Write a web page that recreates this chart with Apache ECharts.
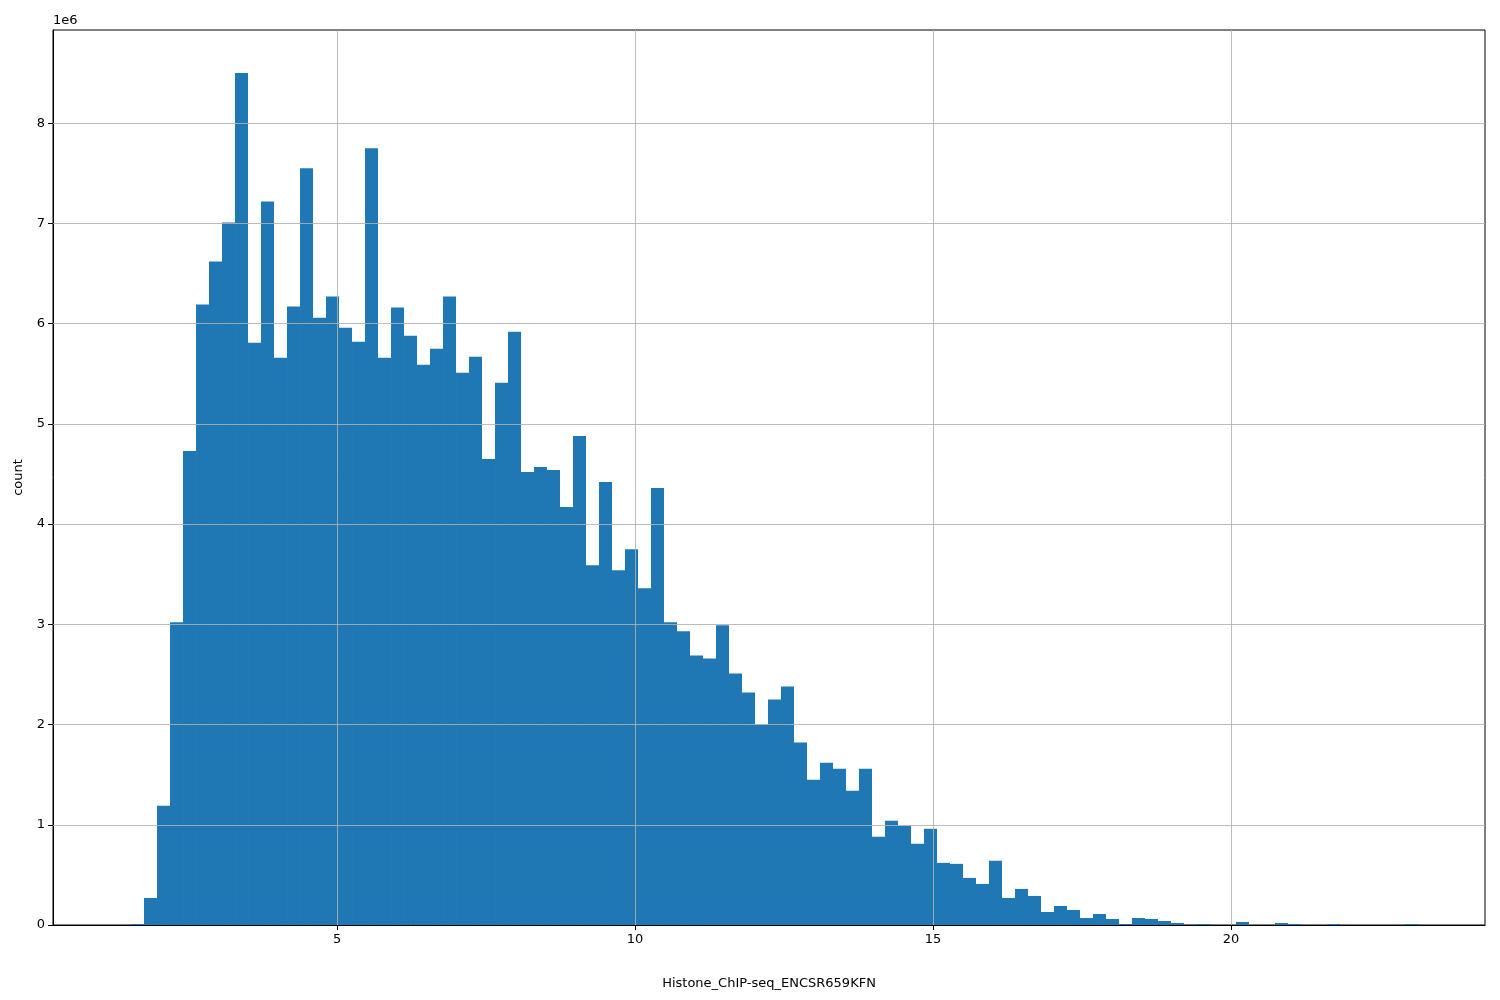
<!DOCTYPE html>
<html>
<head>
<meta charset="utf-8">
<script src="https://cdn.jsdelivr.net/npm/echarts@6/dist/echarts.min.js"></script>
<style>body{margin:0}</style>
</head>
<body>
<div id="chart" style="width:1500px;height:1000px"></div>
<script>
// histogram: 100 bins, first edge and width
const binStart = 1.544;
const binWidth = 0.2181;
const counts = [
  0.01, 0.27, 1.19, 3.02, 4.73, 6.19, 6.62, 7.01, 8.50, 5.81,
  7.22, 5.66, 6.17, 7.55, 6.06, 6.27, 5.96, 5.82, 7.75, 5.66,
  6.16, 5.88, 5.59, 5.75, 6.27, 5.51, 5.67, 4.65, 5.41, 5.92,
  4.52, 4.57, 4.54, 4.17, 4.88, 3.59, 4.42, 3.54, 3.75, 3.36,
  4.36, 3.02, 2.93, 2.69, 2.66, 2.99, 2.51, 2.32, 2.00, 2.25,
  2.38, 1.82, 1.45, 1.62, 1.56, 1.34, 1.56, 0.88, 1.04, 0.99,
  0.81, 0.96, 0.62, 0.61, 0.47, 0.41, 0.64, 0.27, 0.36, 0.29,
  0.13, 0.19, 0.15, 0.07, 0.11, 0.06, 0.01, 0.07, 0.06, 0.04,
  0.02, 0.003, 0.01, 0, 0, 0.03, 0, 0, 0.02, 0.01,
  0, 0, 0.01, 0, 0, 0, 0, 0, 0.01, 0
]; // in millions
const xTicks = [5, 10, 15, 20];
const yTicks = [1, 2, 3, 4, 5, 6, 7, 8];

const data = counts.map((c, i) => [binStart + i * binWidth, binStart + (i + 1) * binWidth, c * 1e6]);

const chart = echarts.init(document.getElementById("chart"));
const font = "DejaVu Sans";
const gridLine = { color: "#b0b0b0", width: 1, type: "solid", opacity: 0.85 };
chart.setOption({
  animation: false,
  textStyle: { fontFamily: font },
  grid: { left: 53, right: 15, top: 30, bottom: 75, show: true, borderColor: "#000", borderWidth: 1, backgroundColor: "transparent" },
  xAxis: {
    type: "value", min: 0.235, max: 24.26,
    name: "Histone_ChIP-seq_ENCSR659KFN", nameLocation: "middle", nameGap: 52,
    nameTextStyle: { color: "#000", fontSize: 13 },
    axisLine: { show: true, onZero: false, lineStyle: { color: "#000" } },
    axisTick: { show: true, customValues: xTicks, length: 5, lineStyle: { color: "#000" } },
    axisLabel: { customValues: xTicks, color: "#000", fontSize: 13 },
    splitLine: { show: false }
  },
  yAxis: {
    type: "value", min: 0, max: 8.93e6, interval: 1e6,
    name: "count", nameLocation: "middle", nameGap: 28, nameRotate: 90,
    nameTextStyle: { color: "#000", fontSize: 13 },
    axisLine: { show: true, lineStyle: { color: "#000" } },
    axisTick: { show: true, length: 5, lineStyle: { color: "#000" } },
    axisLabel: { color: "#000", fontSize: 13, formatter: v => v / 1e6, showMaxLabel: false },
    splitLine: { show: false }
  },
  graphic: [{ type: "text", left: 53, top: 14, style: { text: "1e6", fontSize: 13, fill: "#000", fontFamily: font } }],
  series: [
    {
      type: "custom",
      data: data,
      renderItem: (params, api) => {
        const p0 = api.coord([api.value(0), api.value(2)]);
        const p1 = api.coord([api.value(1), 0]);
        return { type: "rect", shape: { x: p0[0], y: p0[1], width: p1[0] - p0[0], height: p1[1] - p0[1] }, style: { fill: "#1f77b4" } };
      },
      encode: { x: [0, 1], y: 2 },
      z: 2
    },
    {
      type: "line", data: [], z: 3,
      markLine: {
        silent: true, symbol: "none", label: { show: false },
        lineStyle: gridLine,
        data: xTicks.map(v => ({ xAxis: v })).concat(yTicks.map(v => ({ yAxis: v * 1e6 })))
      }
    }
  ]
});
</script>
</body>
</html>
